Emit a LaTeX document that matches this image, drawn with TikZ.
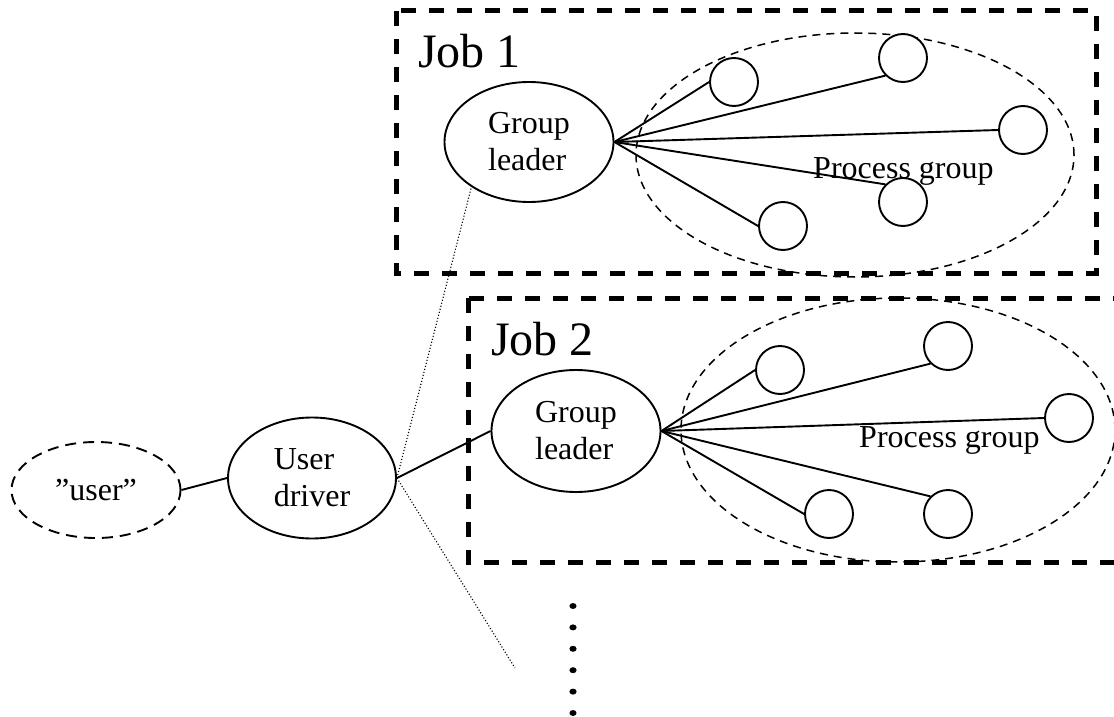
\documentclass[tikz,border=0pt]{standalone}
\usepackage{fontspec}
\setmainfont{Liberation Serif}
\usetikzlibrary{shapes.geometric}
\begin{document}
\begin{tikzpicture}[x=1pt,y=-1pt,
  solidline/.style={line width=1.9pt},
  dotline/.style={line width=1.1pt, dash pattern=on 1.1pt off 2pt},
  jobbox/.style={line width=5pt, dash pattern=on 15pt off 13pt},
  bigell/.style={ellipse, draw, line width=1.9pt, inner sep=0pt, align=left,
    font=\fontsize{32}{37}\selectfont},
  userell/.style={bigell, dash pattern=on 11pt off 7pt},
  pgroup/.style={ellipse, draw, line width=1.5pt, dash pattern=on 8pt off 6pt, inner sep=0pt},
  proc/.style={circle, draw, fill=white, line width=1.9pt, minimum size=48pt, inner sep=0pt},
  joblabel/.style={font=\fontsize{48}{55}\selectfont, anchor=base west, inner sep=0pt},
  pglabel/.style={font=\fontsize{32}{37}\selectfont, anchor=base west, inner sep=0pt}
]
\clip (0,0) rectangle (1114,717);

% process group ellipses
\node[pgroup, minimum width=438pt, minimum height=244pt] (pg1) at (855,155) {};
\node[pgroup, minimum width=434pt, minimum height=264pt] (pg2) at (898,430) {};

% job boxes
\draw[jobbox] (396,11) rectangle (1096,273);
\draw[jobbox] (468,298) rectangle (1150,562);

% labels
\node[joblabel] (job1) at (418,67) {Job 1};
\node[joblabel] (job2) at (491,355) {Job 2};
\node[pglabel] (pgl1) at (813,178) {Process group};
\node[pglabel] (pgl2) at (859,447) {Process group};

% main nodes
\node[userell, minimum width=169pt, minimum height=96pt] (user) at (96,490) {”user”};
\node[bigell, minimum width=168pt, minimum height=121pt] (ud) at (312,478) {User\\driver};
\node[bigell, minimum width=169pt, minimum height=120pt] (gl1) at (529,142) {Group\\leader};
\node[bigell, minimum width=169pt, minimum height=122pt] (gl2) at (576,431) {Group\\leader};

% process circles job 1
\node[proc] (a1) at (734,82) {};
\node[proc] (a2) at (903,58) {};
\node[proc] (a3) at (1023,130) {};
\node[proc] (a4) at (903,202) {};
\node[proc] (a5) at (783,226) {};

% process circles job 2
\node[proc] (b1) at (780,370) {};
\node[proc] (b2) at (948,346) {};
\node[proc] (b3) at (1069,418) {};
\node[proc] (b4) at (948,514) {};
\node[proc] (b5) at (829,514) {};

% connectors
\draw[solidline] (user.east) -- (ud.west);
\draw[solidline] (ud.east) -- (gl2.west);
\draw[dotline] (ud.east) -- (gl1.218);
\coordinate (more) at (515,668);
\draw[dotline] (ud.east) -- (more);

\draw[solidline] (gl1.east) -- (a1.west);
\draw[solidline] (gl1.east) -- (a2.225);
\draw[solidline] (gl1.east) -- (a3.west);
\draw[solidline] (gl1.east) -- (a4.135);
\draw[solidline] (gl1.east) -- (a5.west);

\draw[solidline] (gl2.east) -- (b1.west);
\draw[solidline] (gl2.east) -- (b2.225);
\draw[solidline] (gl2.east) -- (b3.west);
\draw[solidline] (gl2.east) -- (b4.135);
\draw[solidline] (gl2.east) -- (b5.west);

% vertical ellipsis
\foreach \i in {0,...,5}
  \fill (573,606+21.4*\i) ellipse [x radius=3.6, y radius=3];
\end{tikzpicture}
\end{document}
